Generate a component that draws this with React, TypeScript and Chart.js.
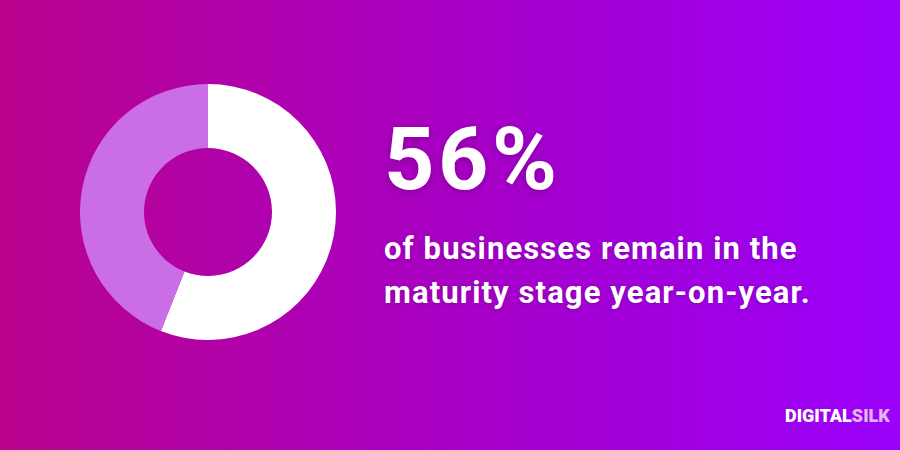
import React, { useEffect, useRef } from "react";
import { Chart, registerables } from "chart.js";

Chart.register(...registerables);

const categories = ["Remain in maturity stage", "Other"];
const values = [56, 44];
const sliceColors = ["#ffffff", "#cb6ee6"];
const headline = "56%";
const subtitleLines = ["of businesses remain in the", "maturity stage year-on-year."];
const brandA = "DIGITAL";
const brandB = "SILK";

export default function App() {
  const ref = useRef<HTMLCanvasElement | null>(null);

  useEffect(() => {
    document.body.style.margin = "0";
    const ctx = ref.current;
    if (!ctx) return;
    const chart = new Chart(ctx, {
      type: "doughnut",
      data: {
        labels: categories,
        datasets: [
          {
            data: values,
            backgroundColor: sliceColors,
            borderWidth: 0,
            hoverOffset: 0,
          },
        ],
      },
      options: {
        animation: false,
        responsive: false,
        maintainAspectRatio: false,
        devicePixelRatio: 1,
        cutout: "50%",
        layout: { padding: 0 },
        plugins: { legend: { display: false }, tooltip: { enabled: false } },
        events: [],
      },
    });
    return () => chart.destroy();
  }, []);

  return (
    <div
      style={{
        position: "fixed",
        left: 0,
        top: 0,
        width: 900,
        height: 450,
        overflow: "hidden",
        background: "linear-gradient(90deg, #b9038c 0%, #a800c4 50%, #9a00fb 100%)",
        fontFamily: "Roboto, 'Noto Sans', sans-serif",
        color: "#ffffff",
      }}
    >
      <canvas
        ref={ref}
        width={256}
        height={256}
        style={{ position: "absolute", left: 80, top: 84, width: 256, height: 256 }}
      />
      <div
        style={{
          position: "absolute",
          left: 384,
          top: 115,
          fontSize: 88,
          lineHeight: "88px",
          fontWeight: 700,
          letterSpacing: 3.5,
          whiteSpace: "nowrap",
          textShadow: "0 2px 8px rgba(70,0,90,0.35)",
        }}
      >
        {headline}
      </div>
      <div
        style={{
          position: "absolute",
          left: 384,
          top: 227,
          fontSize: 31,
          lineHeight: "44px",
          fontWeight: 700,
          letterSpacing: 1.1,
          whiteSpace: "nowrap",
          textShadow: "0 1px 4px rgba(70,0,90,0.3)",
        }}
      >
        {subtitleLines.map((l, i) => (
          <div key={i}>{l}</div>
        ))}
      </div>
      <div
        style={{
          position: "absolute",
          left: 785,
          top: 405,
          fontSize: 18,
          lineHeight: "22px",
          fontWeight: 900,
          letterSpacing: 0,
          whiteSpace: "nowrap",
        }}
      >
        <span style={{ color: "#ffffff" }}>{brandA}</span>
        <span style={{ color: "#e2b6f4" }}>{brandB}</span>
      </div>
    </div>
  );
}
